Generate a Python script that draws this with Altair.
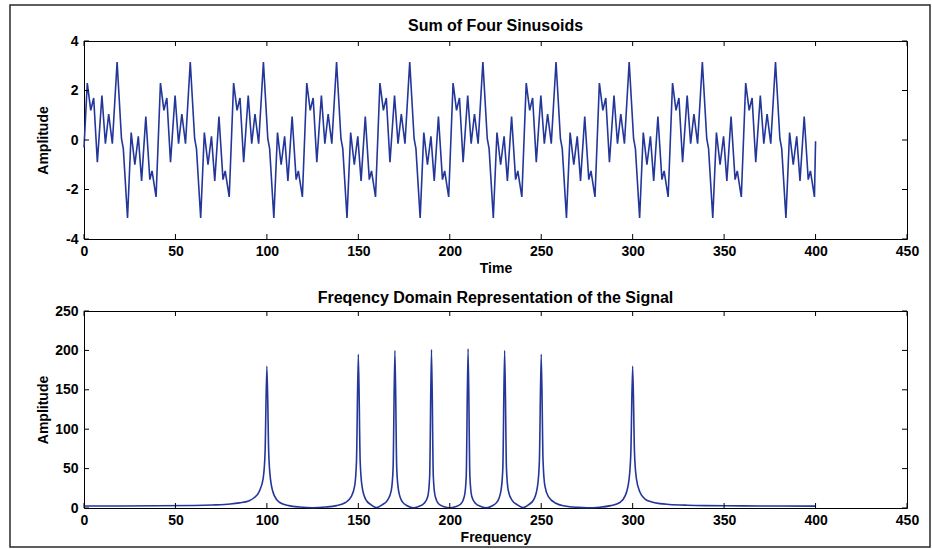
import altair as alt
import pandas as pd

# ---------------------------------------------------------------------------
# Time-domain trace: vertex times and amplitudes (one line per 40-unit cycle)
# ---------------------------------------------------------------------------
sig_time = [
    0.0,
    1.8, 3.7, 5.3, 7.3, 9.8, 11.7, 13.5, 15.5, 18.1, 20.5, 21.5, 23.8, 25.8, 27.8, 29.7, 31.5, 33.8, 36.0, 37.2, 39.4,
    41.8, 43.7, 45.3, 47.3, 49.8, 51.7, 53.5, 55.5, 58.1, 60.5, 61.5, 63.8, 65.8, 67.8, 69.7, 71.5, 73.8, 76.0, 77.2, 79.4,
    81.8, 83.7, 85.3, 87.3, 89.8, 91.7, 93.5, 95.5, 98.1, 100.5, 101.5, 103.8, 105.8, 107.8, 109.7, 111.5, 113.8, 116.0, 117.2, 119.4,
    121.8, 123.7, 125.3, 127.3, 129.8, 131.7, 133.5, 135.5, 138.1, 140.5, 141.5, 143.8, 145.8, 147.8, 149.7, 151.5, 153.8, 156.0, 157.2, 159.4,
    161.8, 163.7, 165.3, 167.3, 169.8, 171.7, 173.5, 175.5, 178.1, 180.5, 181.5, 183.8, 185.8, 187.8, 189.7, 191.5, 193.8, 196.0, 197.2, 199.4,
    201.8, 203.7, 205.3, 207.3, 209.8, 211.7, 213.5, 215.5, 218.1, 220.5, 221.5, 223.8, 225.8, 227.8, 229.7, 231.5, 233.8, 236.0, 237.2, 239.4,
    241.8, 243.7, 245.3, 247.3, 249.8, 251.7, 253.5, 255.5, 258.1, 260.5, 261.5, 263.8, 265.8, 267.8, 269.7, 271.5, 273.8, 276.0, 277.2, 279.4,
    281.8, 283.7, 285.3, 287.3, 289.8, 291.7, 293.5, 295.5, 298.1, 300.5, 301.5, 303.8, 305.8, 307.8, 309.7, 311.5, 313.8, 316.0, 317.2, 319.4,
    321.8, 323.7, 325.3, 327.3, 329.8, 331.7, 333.5, 335.5, 338.1, 340.5, 341.5, 343.8, 345.8, 347.8, 349.7, 351.5, 353.8, 356.0, 357.2, 359.4,
    361.8, 363.7, 365.3, 367.3, 369.8, 371.7, 373.5, 375.5, 378.1, 380.5, 381.5, 383.8, 385.8, 387.8, 389.7, 391.5, 393.8, 396.0, 397.2, 399.4,
    400.0,
]
sig_amp = [
    -0.3,
    2.3, 1.2, 1.7, -0.9, 1.8, -0.15, 1.05, -0.15, 3.15, 0.05, -0.35, -3.15, 0.3, -1.0, 0.15, -1.65, 0.95, -1.6, -1.25, -2.3,
    2.3, 1.2, 1.7, -0.9, 1.8, -0.15, 1.05, -0.15, 3.15, 0.05, -0.35, -3.15, 0.3, -1.0, 0.15, -1.65, 0.95, -1.6, -1.25, -2.3,
    2.3, 1.2, 1.7, -0.9, 1.8, -0.15, 1.05, -0.15, 3.15, 0.05, -0.35, -3.15, 0.3, -1.0, 0.15, -1.65, 0.95, -1.6, -1.25, -2.3,
    2.3, 1.2, 1.7, -0.9, 1.8, -0.15, 1.05, -0.15, 3.15, 0.05, -0.35, -3.15, 0.3, -1.0, 0.15, -1.65, 0.95, -1.6, -1.25, -2.3,
    2.3, 1.2, 1.7, -0.9, 1.8, -0.15, 1.05, -0.15, 3.15, 0.05, -0.35, -3.15, 0.3, -1.0, 0.15, -1.65, 0.95, -1.6, -1.25, -2.3,
    2.3, 1.2, 1.7, -0.9, 1.8, -0.15, 1.05, -0.15, 3.15, 0.05, -0.35, -3.15, 0.3, -1.0, 0.15, -1.65, 0.95, -1.6, -1.25, -2.3,
    2.3, 1.2, 1.7, -0.9, 1.8, -0.15, 1.05, -0.15, 3.15, 0.05, -0.35, -3.15, 0.3, -1.0, 0.15, -1.65, 0.95, -1.6, -1.25, -2.3,
    2.3, 1.2, 1.7, -0.9, 1.8, -0.15, 1.05, -0.15, 3.15, 0.05, -0.35, -3.15, 0.3, -1.0, 0.15, -1.65, 0.95, -1.6, -1.25, -2.3,
    2.3, 1.2, 1.7, -0.9, 1.8, -0.15, 1.05, -0.15, 3.15, 0.05, -0.35, -3.15, 0.3, -1.0, 0.15, -1.65, 0.95, -1.6, -1.25, -2.3,
    2.3, 1.2, 1.7, -0.9, 1.8, -0.15, 1.05, -0.15, 3.15, 0.05, -0.35, -3.15, 0.3, -1.0, 0.15, -1.65, 0.95, -1.6, -1.25, -2.3,
    -0.05,
]

# ---------------------------------------------------------------------------
# Magnitude spectrum: frequency bins and amplitudes (grouped around each peak)
# ---------------------------------------------------------------------------
spec_freq = [
    0, 20, 40, 60, 70, 80, 85, 90, 93, 96, 98, 99,
    100, 101, 102, 104, 107, 112, 118, 125, 132, 138, 143, 146, 148, 149,
    150, 151, 152, 154, 157, 160, 163, 166, 168, 169,
    170, 171, 172, 174, 177, 180, 183, 186, 188, 189,
    190, 191, 192, 194, 197, 200, 203, 206, 208, 209,
    210, 211, 212, 214, 217, 220, 223, 226, 228, 229,
    230, 231, 232, 234, 237, 240, 243, 246, 248, 249,
    250, 251, 252, 254, 258, 263, 270, 275, 282, 288, 293, 296, 298, 299,
    300, 301, 302, 304, 307, 310, 315, 320, 330, 340, 360, 380, 400,
]
spec_amp = [
    2.5, 2.6, 2.8, 3.2, 3.8, 5, 6.5, 9, 13, 22, 38, 70,
    180, 70, 36, 16, 7, 3, 1.2, 0.4, 1.2, 3, 7, 14, 28, 60,
    195, 60, 28, 11, 4, 0.5, 4, 10, 22, 50,
    200, 50, 22, 8, 2.5, 0.3, 2, 6, 15, 40,
    201, 40, 15, 5, 1.5, 0.3, 1.5, 5, 15, 40,
    202, 40, 15, 6, 2, 0.3, 2.5, 8, 22, 50,
    200, 50, 22, 10, 4, 0.5, 4, 11, 28, 60,
    195, 60, 28, 14, 6, 2.5, 0.8, 0.3, 1, 3, 7, 16, 36, 70,
    180, 70, 38, 20, 11, 8, 5.5, 4.5, 3.5, 3, 2.7, 2.5, 2.4,
]

# Axis tick positions
x_ticks = [0, 50, 100, 150, 200, 250, 300, 350, 400, 450]
time_amp_ticks = [-4, -2, 0, 2, 4]
spec_amp_ticks = [0, 50, 100, 150, 200, 250]

FONT = "Liberation Sans"
LINE = "#23369a"
W = 823
H_TOP = 198
H_BOT = 197
TICK = 5

minus_fix = "datum.value < 0 ? '-' + abs(datum.value) : '' + datum.value"


def x_axis(title):
    return alt.Axis(
        values=x_ticks, title=title, grid=False, domain=False, ticks=False,
        tickSize=0, labelFlush=False, labelOverlap=False, labelPadding=5,
        titlePadding=3, labelExpr=minus_fix,
    )


def y_axis(values):
    return alt.Axis(
        values=values, title="Amplitude", grid=False, domain=False, ticks=False,
        tickSize=0, labelFlush=False, labelOverlap=False, labelPadding=6,
        titlePadding=4, minExtent=30, maxExtent=30, labelExpr=minus_fix,
    )


def boxed_panel(df, xfield, yfield, x_enc, y_enc, y_vals, height, title, offset,
                interp="linear"):
    """Line plus MATLAB-style inward ticks on all four sides of the box."""
    line = alt.Chart(df).mark_line(color=LINE, strokeWidth=1.6, interpolate=interp).encode(
        x=x_enc, y=y_enc)
    xt = pd.DataFrame({xfield: x_ticks})
    yt = pd.DataFrame({yfield: y_vals})
    rule = dict(color="black", strokeWidth=1)
    t_bottom = alt.Chart(xt).mark_rule(**rule).encode(
        x=x_enc, y=alt.value(height), y2=alt.value(height - TICK))
    t_top = alt.Chart(xt).mark_rule(**rule).encode(
        x=x_enc, y=alt.value(0), y2=alt.value(TICK))
    t_left = alt.Chart(yt).mark_rule(**rule).encode(
        y=y_enc, x=alt.value(0), x2=alt.value(TICK))
    t_right = alt.Chart(yt).mark_rule(**rule).encode(
        y=y_enc, x=alt.value(W), x2=alt.value(W - TICK))
    return [line, t_bottom, t_top, t_left, t_right], alt.TitleParams(
        title, fontSize=16, fontWeight="bold", font=FONT, offset=offset,
        baseline="alphabetic", color="black", frame="group")


x_scale = alt.Scale(domain=[0, 450], nice=False, zero=False)

# Top panel: the summed signal (title pulled down inside the outer frame)
time_df = pd.DataFrame({"t": sig_time, "a": sig_amp})
tx = alt.X("t:Q", scale=x_scale, axis=x_axis("Time"))
ty = alt.Y("a:Q", scale=alt.Scale(domain=[-4, 4], nice=False, zero=False),
           axis=y_axis(time_amp_ticks))
top_layers, top_title = boxed_panel(time_df, "t", "a", tx, ty, time_amp_ticks,
                                    H_TOP, "Sum of Four Sinusoids", -43)

# outer frame around the whole figure
frame = alt.Chart(pd.DataFrame({"k": [0]})).mark_rect(
    filled=False, stroke="#2a2a2a", strokeWidth=1.5).encode(
    x=alt.value(-74), x2=alt.value(846), y=alt.value(-36), y2=alt.value(506))

top = alt.layer(*top_layers, frame).properties(width=W, height=H_TOP, title=top_title)

# Bottom panel: magnitude spectrum (smooth leakage skirts)
spec_df = pd.DataFrame({"f": spec_freq, "m": spec_amp})
fx = alt.X("f:Q", scale=x_scale, axis=x_axis("Frequency"))
fy = alt.Y("m:Q", scale=alt.Scale(domain=[0, 250], nice=False, zero=False),
           axis=y_axis(spec_amp_ticks))
bot_layers, bot_title = boxed_panel(spec_df, "f", "m", fx, fy, spec_amp_ticks, H_BOT,
                                    "Freqency Domain Representation of the Signal", -15,
                                    interp="monotone")
bottom = alt.layer(*bot_layers).properties(width=W, height=H_BOT, title=bot_title)

chart = (
    alt.vconcat(top, bottom, spacing=72, bounds="flush")
    .properties(padding={"left": 8, "top": 3, "right": 0, "bottom": 0},
                background="white")
    .configure_view(stroke="black", strokeWidth=1)
    .configure_axis(
        labelFont=FONT, labelFontSize=14, labelFontWeight="bold", labelColor="black",
        titleFont=FONT, titleFontSize=14, titleFontWeight="bold", titleColor="black",
    )
)

chart.save("out.html", embed_options={"renderer": "svg", "actions": False})
